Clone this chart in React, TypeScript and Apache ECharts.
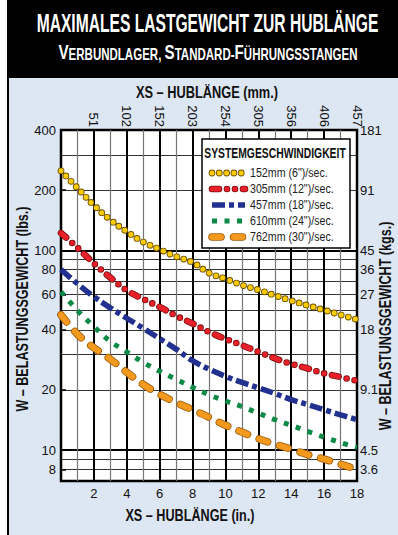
import React, { useEffect, useRef } from "react";
import * as echarts from "echarts";

// ---------- data ----------
const strokeIn = [0, 1, 2, 3, 4, 5, 6, 7, 8, 9, 10, 11, 12, 13, 14, 15, 16, 17, 18];
const load152 = [250, 205, 168, 142, 124, 110, 101, 93, 87, 77, 72, 67, 63.4, 59.5, 56, 53, 50.2, 47.5, 45];
const load305 = [122, 103, 86, 73, 63, 57, 52, 47, 43, 39, 36, 33.5, 31, 28.8, 27, 25.6, 24.2, 23.2, 22.2];
const load457 = [80, 68, 58.6, 51.5, 45.7, 40.7, 36.1, 32, 28, 25.4, 23.4, 21.8, 20.5, 19.2, 17.9, 16.9, 15.9, 15, 14.2];
const load610 = [62, 50, 41.5, 35, 31, 27.5, 24.8, 22.6, 20.6, 18.9, 17.6, 16.5, 15.3, 14.2, 13.3, 12.4, 11.6, 10.9, 10.3];
const load762 = [47.5, 38, 32.5, 28.5, 24.5, 21.3, 19, 17.3, 15.9, 14.6, 13.3, 12.3, 11.4, 10.7, 10.1, 9.5, 9.0, 8.5, 8.0];

const speedLabels = ['152mm (6")/sec.', '305mm (12")/sec.', '457mm (18")/sec.', '610mm (24")/sec.', '762mm (30")/sec.'];

const inchTicks = [2, 4, 6, 8, 10, 12, 14, 16, 18];
const mmLabels = ["51", "102", "152", "203", "254", "305", "356", "406", "457"];
const lbsTicks = [400, 200, 100, 80, 60, 40, 20, 10, 8];
const kgLabels = ["181", "91", "45", "36", "27", "18", "9.1", "4.5", "3.6"];
const gridLbs = [300, 200, 90, 80, 70, 60, 50, 40, 30, 20, 9, 8];
const majorLbs = [100, 10];

const FONT = "'Liberation Sans', Arial, sans-serif";

const pairs = (ys: number[]) => strokeIn.map((x, i) => [x, ys[i]]);

type Sty = { color: string; width: number; dash: number[]; cap: "round" | "butt" };
const styles: { under?: Sty; main: Sty }[] = [
  { under: { color: "#6e5200", width: 6.8, dash: [0, 7.3], cap: "round" }, main: { color: "#ffcc00", width: 5, dash: [0, 7.3], cap: "round" } },
  { under: { color: "#7a0d0d", width: 6.6, dash: [7, 8, 0, 8, 0, 8], cap: "round" }, main: { color: "#e8202a", width: 5, dash: [7, 8, 0, 8, 0, 8], cap: "round" } },
  { main: { color: "#22318f", width: 5.5, dash: [13, 4, 5, 4], cap: "butt" } },
  { main: { color: "#0b8a46", width: 5, dash: [5, 7.5], cap: "butt" } },
  { under: { color: "#9a5a08", width: 7.6, dash: [9, 12.5], cap: "round" }, main: { color: "#f39a1e", width: 6, dash: [9, 12.5], cap: "round" } },
];
const loads = [load152, load305, load457, load610, load762];

function lineSeries(name: string, data: number[], s: Sty, z: number) {
  return {
    type: "line",
    name,
    data: pairs(data),
    smooth: 0.4,
    showSymbol: false,
    silent: true,
    z,
    lineStyle: { color: s.color, width: s.width, type: s.dash, cap: s.cap, join: "round" },
  };
}

function txt(text: string, x: number, y: number, font: string, opts: any = {}) {
  const { align = "center", fill = "#111", scaleX = 1, rotation = 0, z = 10 } = opts;
  return {
    type: "text", x, y, scaleX, rotation, z,
    style: { text, fill, font, align, verticalAlign: "middle", textAlign: align, textVerticalAlign: "middle" },
  };
}

export default function App() {
  const ref = useRef<HTMLDivElement>(null);
  useEffect(() => {
    if (!ref.current) return;
    const chart = echarts.init(ref.current, null, { renderer: "svg", width: 398, height: 535 });

    const series: any[] = [];
    styles.forEach((st, i) => {
      if (st.under) series.push(lineSeries(speedLabels[i] + " ", loads[i], st.under, 3 + i * 2));
      series.push(lineSeries(speedLabels[i], loads[i], st.main, 4 + i * 2));
    });

    // legend (drawn)
    const legX1 = 212, legX2 = 245;
    const rowY = [173, 189, 205, 221, 237];
    const legendChildren: any[] = [
      { type: "rect", z: 100, shape: { x: 202, y: 139, width: 148, height: 109 }, style: { fill: "#fff", stroke: "#000", lineWidth: 1.5 } },
      txt("SYSTEMGESCHWINDIGKEIT", 275, 153, `bold 14px ${FONT}`, { scaleX: 0.74, z: 101 }),
    ];
    styles.forEach((st, i) => {
      const layers = st.under ? [st.under, st.main] : [st.main];
      layers.forEach((l, j) => {
        legendChildren.push({
          type: "line", z: 101 + j,
          shape: { x1: legX1, y1: rowY[i], x2: legX2, y2: rowY[i] },
          style: { stroke: l.color, lineWidth: l.width, lineDash: l.dash, lineCap: l.cap },
        });
      });
      legendChildren.push(txt(speedLabels[i], 250, rowY[i], `13px ${FONT}`, { align: "left", fill: "#222", scaleX: 0.82, z: 101 }));
    });

    const labelStyle = { color: "#111", fontFamily: FONT, fontSize: 13 };
    const logAxisBase = { type: "log", min: 7, max: 400, logBase: 10 };
    const NAMEFONT = `bold 16px ${FONT}`;

    const option: any = {
      animation: false,
      backgroundColor: "#dde6f3",
      grid: { left: 61, right: 41, top: 130, bottom: 54, show: true, backgroundColor: "#ffffff", borderColor: "#000", borderWidth: 2.5, containLabel: false, outerBoundsMode: "none" },
      xAxis: [
        {
          type: "value", position: "bottom", min: 0, max: 18, interval: 2,
          axisLine: { show: false }, axisTick: { show: false },
          axisLabel: { ...labelStyle, margin: 6, formatter: (v: number) => (inchTicks.indexOf(v) >= 0 ? String(v) : "") },
          splitLine: { show: true, lineStyle: { color: "#000", width: 2 } },
          minorTick: { show: false, splitNumber: 2 },
          minorSplitLine: { show: true, lineStyle: { color: "#777", width: 1.2 } },
        },
        {
          type: "value", position: "top", min: 0, max: 18, interval: 2,
          axisLine: { show: false }, axisTick: { show: false },
          axisLabel: { ...labelStyle, rotate: 90, margin: 3, formatter: (v: number) => { const k = inchTicks.indexOf(v); return k >= 0 ? mmLabels[k] : ""; } },
          splitLine: { show: false },
        },
      ],
      yAxis: [
        {
          ...logAxisBase, position: "left",
          axisLine: { show: false },
          axisTick: { show: false, customValues: gridLbs },
          axisLabel: { ...labelStyle, margin: 5, customValues: lbsTicks, formatter: (v: number) => String(Math.round(v)) },
          splitLine: { show: true, lineStyle: { color: "#333", width: 1.2 } },
          minorTick: { show: false }, minorSplitLine: { show: false },
        },
        {
          ...logAxisBase, position: "right",
          axisLine: { show: false },
          axisTick: { show: true, inside: false, length: 5, customValues: lbsTicks, lineStyle: { color: "#000", width: 1.5 } },
          axisLabel: {
            ...labelStyle, margin: 3, customValues: lbsTicks,
            formatter: (v: number) => { let best = 0; lbsTicks.forEach((t, k) => { if (Math.abs(t - v) < Math.abs(lbsTicks[best] - v)) best = k; }); return kgLabels[best]; },
          },
          splitLine: { show: false },
        },
        {
          ...logAxisBase, position: "left",
          axisLine: { show: false },
          axisTick: { show: false, customValues: majorLbs },
          axisLabel: { show: false },
          splitLine: { show: true, lineStyle: { color: "#000", width: 2.2 } },
        },
      ],
      series,
      graphic: [
        { type: "rect", shape: { x: 0, y: 0, width: 7, height: 535 }, style: { fill: "#ffffff" } },
        { type: "rect", shape: { x: 7, y: 0, width: 391, height: 78 }, style: { fill: "#000000" } },
        { type: "line", shape: { x1: 8, y1: 0, x2: 8, y2: 535 }, style: { stroke: "#000", lineWidth: 2 } },
        txt("MAXIMALES LASTGEWICHT ZUR HUBLÄNGE", 207.5, 23, `bold 25px ${FONT}`, { fill: "#fff", scaleX: 0.625 }),
        {
          type: "text", x: 208, y: 52, scaleX: 0.72, z: 10,
          style: {
            text: "{b|V}{s|ERBUNDLAGER, }{b|S}{s|TANDARD-}{b|F}{s|ÜHRUNGSSTANGEN}",
            fill: "#fff", align: "center", verticalAlign: "middle", textAlign: "center", textVerticalAlign: "middle",
            rich: {
              b: { fill: "#fff", color: "#fff", fontFamily: FONT, fontWeight: "bold", fontSize: 21, lineHeight: 21, verticalAlign: "bottom" },
              s: { fill: "#fff", color: "#fff", fontFamily: FONT, fontWeight: "bold", fontSize: 16, lineHeight: 16, verticalAlign: "bottom" },
            },
          },
        },
        txt("XS – HUBLÄNGE (mm.)", 207, 92, NAMEFONT, { scaleX: 0.8 }),
        txt("XS – HUBLÄNGE (in.)", 190, 515, NAMEFONT, { scaleX: 0.79 }),
        txt("W – BELASTUNGSGEWICHT (lbs.)", 22, 309, NAMEFONT, { scaleX: 0.785, rotation: Math.PI / 2 }),
        txt("W – BELASTUNGSGEWICHT (kgs.)", 385, 326, NAMEFONT, { scaleX: 0.786, rotation: Math.PI / 2 }),
        ...legendChildren,
      ],
    };

    chart.setOption(option);
    return () => chart.dispose();
  }, []);

  return <div ref={ref} style={{ position: "fixed", left: 0, top: 0, width: 398, height: 535 }} />;
}
